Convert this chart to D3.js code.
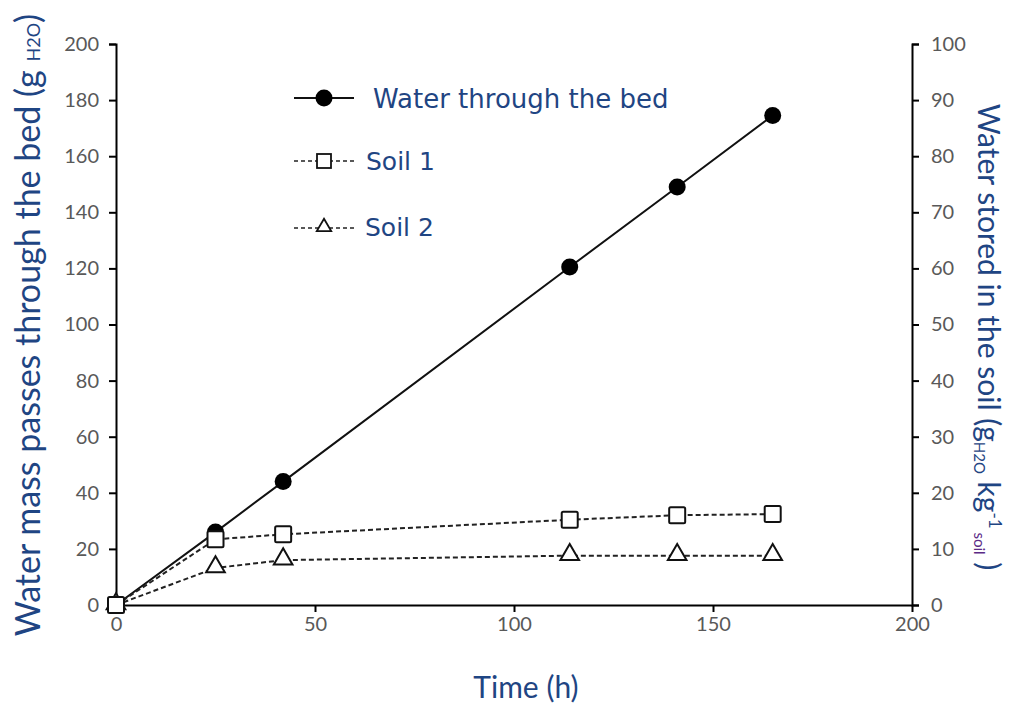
<!DOCTYPE html>
<html>
<head>
<meta charset="utf-8">
<script src="https://cdn.jsdelivr.net/npm/d3@7"></script>
<style>
  body { margin: 0; background: #fff; }
  svg { display: block; }
</style>
</head>
<body>
<div id="chart"></div>
<script>
// data
const time_h = [0, 25, 42, 114, 141, 165];
const water_bed = [0, 26, 44, 120.5, 149, 174.5];   // left axis, g H2O
const soil_1 = [0, 11.7, 12.6, 15.2, 16.0, 16.2];    // right axis, g H2O / kg soil
const soil_2 = [0, 6.6, 8.0, 8.8, 8.8, 8.8];
const x_ticks = [0, 50, 100, 150, 200];
const left_ticks = [0, 20, 40, 60, 80, 100, 120, 140, 160, 180, 200];
const right_ticks = [0, 10, 20, 30, 40, 50, 60, 70, 80, 90, 100];

const width = 1012, height = 706;
const plot = { left: 116, right: 912, top: 44, bottom: 605 };
const titleColor = "#1f4583";
const tickColor = "#595959";

const svg = d3.select("#chart").append("svg")
    .attr("width", width)
    .attr("height", height);

const x = d3.scaleLinear().domain([0, 200]).range([plot.left, plot.right]);
const yL = d3.scaleLinear().domain([0, 200]).range([plot.bottom, plot.top]);
const yR = d3.scaleLinear().domain([0, 100]).range([plot.bottom, plot.top]);

function styleAxis(g) {
    g.select(".domain").attr("stroke", "#000").attr("stroke-width", 2);
    g.selectAll(".tick line").attr("stroke", "#000").attr("stroke-width", 2);
    g.selectAll(".tick text")
        .attr("fill", tickColor)
        .style("font-family", "Lato, 'Open Sans', sans-serif")
        .style("font-size", "20px");
}

// axes
svg.append("g")
    .attr("transform", "translate(0," + plot.bottom + ")")
    .call(d3.axisBottom(x).tickValues(x_ticks).tickSize(7).tickSizeOuter(0).tickPadding(5))
    .call(styleAxis);

svg.append("g")
    .attr("transform", "translate(" + plot.left + ",0)")
    .call(d3.axisLeft(yL).tickValues(left_ticks).tickSize(7).tickSizeOuter(7).tickPadding(10))
    .call(styleAxis);

svg.append("g")
    .attr("transform", "translate(" + plot.right + ",0)")
    .call(d3.axisRight(yR).tickValues(right_ticks).tickSize(7).tickSizeOuter(7).tickPadding(12))
    .call(styleAxis);

// series
const bedData = time_h.map((t, i) => ({ t: t, v: water_bed[i] }));
const s1Data = time_h.map((t, i) => ({ t: t, v: soil_1[i] }));
const s2Data = time_h.map((t, i) => ({ t: t, v: soil_2[i] }));

svg.append("path")
    .datum(bedData)
    .attr("fill", "none")
    .attr("stroke", "#111")
    .attr("stroke-width", 2)
    .attr("d", d3.line().x(d => x(d.t)).y(d => yL(d.v)));

svg.selectAll(".bed-dot")
    .data(bedData.slice(1))
    .enter()
    .append("circle")
    .attr("cx", d => x(d.t))
    .attr("cy", d => yL(d.v))
    .attr("r", 8.5)
    .attr("fill", "#000");

const triangle = d3.symbol().type(d3.symbolTriangle).size(150);

svg.append("path")
    .datum(s2Data)
    .attr("fill", "none")
    .attr("stroke", "#222")
    .attr("stroke-width", 2)
    .attr("stroke-dasharray", "5,3")
    .attr("d", d3.line().x(d => x(d.t)).y(d => yR(d.v)));

svg.selectAll(".s2-mark")
    .data(s2Data)
    .enter()
    .append("path")
    .attr("d", triangle)
    .attr("transform", d => "translate(" + x(d.t) + "," + (yR(d.v) - 1) + ")")
    .attr("fill", "#fff")
    .attr("stroke", "#111")
    .attr("stroke-width", 2);

svg.append("path")
    .datum(s1Data)
    .attr("fill", "none")
    .attr("stroke", "#222")
    .attr("stroke-width", 2)
    .attr("stroke-dasharray", "5,3")
    .attr("d", d3.line().x(d => x(d.t)).y(d => yR(d.v)));

svg.selectAll(".s1-mark")
    .data(s1Data)
    .enter()
    .append("rect")
    .attr("x", d => x(d.t) - 8)
    .attr("y", d => yR(d.v) - 8)
    .attr("width", 16)
    .attr("height", 16)
    .attr("rx", 1.5)
    .attr("fill", "#fff")
    .attr("stroke", "#111")
    .attr("stroke-width", 2);

// legend
const legend = svg.append("g")
    .style("font-family", "'DejaVu Sans', Verdana, sans-serif")
    .attr("fill", titleColor);

legend.append("line")
    .attr("x1", 294).attr("x2", 354).attr("y1", 98).attr("y2", 98)
    .attr("stroke", "#111").attr("stroke-width", 2);
legend.append("circle").attr("cx", 324).attr("cy", 98).attr("r", 8.5).attr("fill", "#000");
legend.append("text").attr("x", 373).attr("y", 108)
    .style("font-size", "26px").text("Water through the bed");

legend.append("line")
    .attr("x1", 294).attr("x2", 356).attr("y1", 161).attr("y2", 161)
    .attr("stroke", "#222").attr("stroke-width", 1.5).attr("stroke-dasharray", "4,3");
legend.append("rect")
    .attr("x", 317).attr("y", 154).attr("width", 14).attr("height", 14)
    .attr("fill", "#fff").attr("stroke", "#111").attr("stroke-width", 1.8);
legend.append("text").attr("x", 366).attr("y", 170)
    .style("font-size", "25px").text("Soil 1");

legend.append("line")
    .attr("x1", 294).attr("x2", 356).attr("y1", 228).attr("y2", 228)
    .attr("stroke", "#222").attr("stroke-width", 1.5).attr("stroke-dasharray", "4,3");
legend.append("path")
    .attr("d", d3.symbol().type(d3.symbolTriangle).size(90))
    .attr("transform", "translate(324,227)")
    .attr("fill", "#fff").attr("stroke", "#111").attr("stroke-width", 1.8);
legend.append("text").attr("x", 365).attr("y", 236)
    .style("font-size", "25px").text("Soil 2");

// axis titles
const titleFont = "Lato, 'Open Sans', sans-serif";

svg.append("text")
    .attr("x", 526)
    .attr("y", 698)
    .attr("text-anchor", "middle")
    .attr("fill", titleColor)
    .style("font-family", titleFont)
    .style("font-size", "30px")
    .text("Time (h)");

const leftTitle = svg.append("text")
    .attr("transform", "translate(40,325) rotate(-90)")
    .attr("text-anchor", "middle")
    .attr("fill", titleColor)
    .style("font-family", titleFont)
    .style("font-size", "34px");
leftTitle.append("tspan").text("Water mass passes through the bed (g ");
leftTitle.append("tspan").style("font-size", "18px").text("H2O");
leftTitle.append("tspan").text(")");

const rightTitle = svg.append("text")
    .attr("transform", "translate(978,337) rotate(90)")
    .attr("text-anchor", "middle")
    .attr("fill", titleColor)
    .style("font-family", titleFont)
    .style("font-size", "30px");
rightTitle.append("tspan").text("Water stored in the soil (g");
rightTitle.append("tspan").style("font-size", "15px").attr("dy", 4).text("H2O");
rightTitle.append("tspan").attr("dy", -4).text(" kg");
rightTitle.append("tspan").style("font-size", "17px").attr("dy", -11).text("-1");
rightTitle.append("tspan").style("font-size", "15px").attr("dy", 15).attr("fill", "#5b2a86").text(" soil");
rightTitle.append("tspan").attr("dy", -4).text(" )");
</script>
</body>
</html>
